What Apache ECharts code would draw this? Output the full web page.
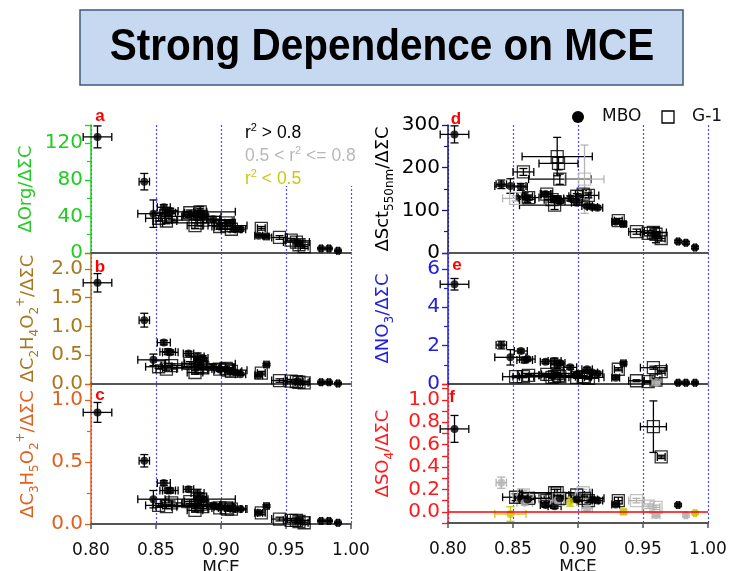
<!DOCTYPE html>
<html><head><meta charset="utf-8">
<script src="https://cdn.jsdelivr.net/npm/echarts@6/dist/echarts.min.js"></script>
<style>html,body{margin:0;padding:0;background:#fff}#c{width:730px;height:571px}</style>
</head><body><div id="c"></div>
<script>
// ---------------- DATA ----------------
const xTickValues = [0.80, 0.85, 0.90, 0.95, 1.00];

// MBO (filled symbols)
const mboMCE    = [0.805, 0.841, 0.848, 0.856, 0.859, 0.861, 0.875, 0.882, 0.884, 0.886, 0.894, 0.899, 0.907, 0.911, 0.915, 0.929, 0.935, 0.960, 0.977, 0.983, 0.990];
const mboMCEErr = [0.011, 0.004, 0.012, 0.005, 0.006, 0.006, 0.004, 0.005, 0.005, 0.004, 0.005, 0.004, 0.004, 0.004, 0.004, 0.003, 0.002, 0.003, 0.001, 0.001, 0.001];

// G-1 (open squares)
const g1MCE    = [0.852, 0.858, 0.862, 0.876, 0.880, 0.882, 0.884, 0.885, 0.886, 0.899, 0.904, 0.905, 0.908, 0.931, 0.945, 0.954, 0.958, 0.960, 0.964];
const g1MCEErr = [0.010, 0.008, 0.008, 0.004, 0.006, 0.027, 0.027, 0.015, 0.024, 0.006, 0.006, 0.015, 0.008, 0.003, 0.006, 0.004, 0.010, 0.003, 0.003];

// a: ΔOrg/ΔΣC
const orgMBO    = [127, 78, 43, 50, 44, 46, 42, 43, 45, 40, 37, 29, 33, 26, 26, 19, 18, 11, 5, 5, 2.5];
const orgMBOErr = [12, 9, 15, 3, 3, 3, 3, 3, 6, 3, 3, 3, 3, 2, 2, 1.5, 1.5, 2, 0.5, 0.5, 0.5];
const orgG1     = [38, 35, 40, 44, 30, 33, 45, 40, 36, 29, 33, 30, 26, 27, 17, 14, 12, 9, 7];
const orgG1Err  = [3, 3, 3, 3, 3, 3, 4, 3, 3, 3, 3, 4, 3, 2, 2, 2, 2, 2, 2];

// b: ΔC2H4O2+/ΔΣC
const c2MBO    = [1.76, 1.11, 0.42, 0.72, 0.56, 0.55, 0.53, 0.48, 0.39, 0.45, 0.30, 0.25, 0.22, 0.20, 0.17, 0.15, 0.34, 0.04, 0.03, 0.03, 0.01];
const c2MBOErr = [0.16, 0.12, 0.10, 0.04, 0.05, 0.04, 0.04, 0.06, 0.05, 0.04, 0.04, 0.03, 0.03, 0.03, 0.02, 0.02, 0.02, 0.02, 0.01, 0.01, 0.01];
const c2G1     = [0.30, 0.26, 0.32, 0.36, 0.20, 0.28, 0.35, 0.30, 0.28, 0.26, 0.27, 0.24, 0.22, 0.19, 0.06, 0.05, 0.04, 0.03, 0.02];
const c2G1Err  = [0.03, 0.03, 0.03, 0.03, 0.03, 0.03, 0.03, 0.03, 0.03, 0.03, 0.03, 0.03, 0.03, 0.03, 0.03, 0.03, 0.03, 0.03, 0.03];

// c: ΔC3H5O2+/ΔΣC
const c3MBO    = [0.90, 0.51, 0.20, 0.33, 0.27, 0.27, 0.28, 0.25, 0.22, 0.20, 0.15, 0.14, 0.13, 0.12, 0.12, 0.09, 0.145, 0.03, 0.025, 0.025, 0.01];
const c3MBOErr = [0.08, 0.05, 0.07, 0.02, 0.02, 0.02, 0.02, 0.03, 0.03, 0.02, 0.02, 0.02, 0.02, 0.01, 0.01, 0.01, 0.01, 0.01, 0.005, 0.005, 0.005];
const c3G1     = [0.15, 0.14, 0.17, 0.18, 0.11, 0.15, 0.20, 0.16, 0.14, 0.13, 0.13, 0.12, 0.12, 0.09, 0.04, 0.03, 0.03, 0.02, 0.01];
const c3G1Err  = [0.015, 0.015, 0.015, 0.015, 0.015, 0.015, 0.015, 0.015, 0.015, 0.015, 0.015, 0.015, 0.015, 0.015, 0.015, 0.015, 0.015, 0.015, 0.015];

// d: ΔSct550nm/ΔΣC
const sctMBO    = [278, 161, 157, 155, 133, 126, 138, 126, 126, 122, 128, 118, 110, 108, 106, 73, 68, 42, 27, 24, 13];
const sctMBOErr = [20, 10, 17, 8, 8, 8, 5, 8, 8, 6, 6, 6, 4, 4, 4, 5, 5, 18, 3, 3, 3];
const sctG1     = [128, 190, 130, 138, 125, 112, 226, 210, 173, 133, 138, 173, 135, 76, 50, 46, 48, 44, 34];
const sctG1Err  = [6, 8, 6, 5, 6, 10, 45, 15, 12, 6, 8, 80, 6, 5, 6, 6, 6, 6, 6];
const sctG1Class = ['mid','hi','hi','hi','hi','hi','hi','hi','hi','hi','hi','mid','hi','hi','hi','hi','hi','hi','hi'];

// e: ΔNO3/ΔΣC
const no3MBO    = [5.2, 2.03, 1.39, 1.72, 1.25, 1.30, 1.16, 1.20, 1.00, 1.10, 0.87, 0.50, 0.77, 0.60, 0.55, 0.33, 1.08, 0.07, 0.07, 0.07, 0.07];
const no3MBOErr = [0.3, 0.2, 0.4, 0.1, 0.15, 0.1, 0.1, 0.15, 0.2, 0.1, 0.1, 0.1, 0.1, 0.08, 0.08, 0.08, 0.08, 0.05, 0.03, 0.03, 0.03];
const no3MBOClass = ['hi','hi','hi','hi','hi','hi','hi','hi','hi','hi','hi','hi','hi','hi','hi','hi','hi','mid','hi','hi','hi'];
const no3G1     = [0.38, 0.38, 0.45, 0.50, 0.35, 0.38, 0.55, 0.45, 0.38, 0.35, 0.38, 0.35, 0.30, 0.77, 0.17, 0.12, 0.85, 0.20, 0.64];
const no3G1Err  = [0.05, 0.05, 0.05, 0.05, 0.05, 0.05, 0.05, 0.05, 0.05, 0.05, 0.05, 0.05, 0.05, 0.08, 0.05, 0.05, 0.08, 0.05, 0.08];

// f: ΔSO4/ΔΣC
const so4MBO    = [0.74, 0.26, -0.02, 0.12, 0.08, 0.11, 0.06, 0.05, 0.10, 0.12, 0.09, 0.11, 0.03, 0.11, 0.10, 0.065, 0.00, -0.03, 0.06, -0.03, -0.01];
const so4MBOErr = [0.12, 0.05, 0.065, 0.02, 0.02, 0.02, 0.02, 0.02, 0.03, 0.02, 0.04, 0.02, 0.02, 0.02, 0.02, 0.015, 0.02, 0.015, 0.01, 0.015, 0.01];
const so4MBOClass = ['hi','mid','lo','hi','mid','hi','hi','hi','mid','hi','lo','hi','mid','hi','hi','hi','lo','mid','hi','mid','lo'];
const so4G1     = [0.13, 0.15, 0.12, 0.10, 0.11, 0.17, 0.17, 0.11, 0.12, 0.15, 0.17, 0.12, 0.10, 0.10, 0.10, 0.05, 0.76, 0.04, 0.49];
const so4G1Err  = [0.03, 0.04, 0.02, 0.02, 0.02, 0.03, 0.03, 0.02, 0.02, 0.02, 0.03, 0.02, 0.02, 0.03, 0.02, 0.02, 0.23, 0.02, 0.015];
const so4G1Class = ['hi','mid','hi','hi','hi','hi','hi','mid','hi','hi','mid','hi','hi','hi','mid','mid','hi','mid','hi'];

// ---------------- STYLE / LAYOUT ----------------
const FONT = "'DejaVu Sans', 'Liberation Sans', sans-serif";
const LFONT = "'Liberation Sans', Arial, sans-serif";
const CLASS_COLORS = ['#000000', '#b4b4b4', '#c8c814'];

const panels = [
  { key:'a', left:91,  top:125, height:128, min:0,    max:140,   interval:40,  step:40,  dec:0, color:'#22cc22', axisColor:'#22cc22', nameGap:52,
    name:'{t|ΔOrg/ΔΣC}', minor:2,
    mbo:[orgMBO, orgMBOErr, null], g1:[orgG1, orgG1Err, null] },
  { key:'b', left:91,  top:253, height:131, min:0,    max:2.278, interval:0.5, step:0.5, dec:1, color:'#a8781e', axisColor:'#a8781e', nameGap:50,
    name:'{t|ΔC}{s|2}{t|H}{s|4}{t|O}{s|2}{p|+}{t|/ΔΣC}', minor:0,
    mbo:[c2MBO, c2MBOErr, null], g1:[c2G1, c2G1Err, null] },
  { key:'c', left:91,  top:384, height:140, min:0,    max:1.129, interval:0.5, step:0.5, dec:1, color:'#e0601e', axisColor:'#e0601e', nameGap:50,
    name:'{t|ΔC}{s|3}{t|H}{s|5}{t|O}{s|2}{p|+}{t|/ΔΣC}', minor:2, bottom:true,
    mbo:[c3MBO, c3MBOErr, null], g1:[c3G1, c3G1Err, null] },
  { key:'d', left:448, top:125, height:128, min:0,    max:300,   interval:100, step:100, dec:0, color:'#000000', axisColor:'#1a1a70', nameGap:52,
    name:'{t|ΔSct}{s|550nm}{t|/ΔΣC}', minor:2,
    mbo:[sctMBO, sctMBOErr, null], g1:[sctG1, sctG1Err, sctG1Class] },
  { key:'e', left:448, top:253, height:131, min:0,    max:6.83,  interval:2,   step:2,   dec:0, color:'#2020e0', axisColor:'#2020e0', nameGap:52,
    name:'{t|ΔNO}{s|3}{t|/ΔΣC}', minor:2,
    mbo:[no3MBO, no3MBOErr, no3MBOClass], g1:[no3G1, no3G1Err, null] },
  { key:'f', left:448, top:384, height:139, min:-0.1, max:1.141, interval:0.1, step:0.2, dec:1, color:'#ff1a1a', axisColor:'#ff1a1a', nameGap:52,
    name:'{t|ΔSO}{s|4}{t|/ΔΣC}', minor:0, bottom:true, zeroLine:true,
    mbo:[so4MBO, so4MBOErr, so4MBOClass], g1:[so4G1, so4G1Err, so4G1Class] }
];

// ---------------- BUILD ----------------
const grid = [], xAxis = [], yAxis = [], series = [];

// background grids carrying the dotted blue MCE lines
[91, 448].forEach(function (lft) {
  grid.push({ left: lft, top: 125, width: 260, height: 399, outerBoundsMode: 'none', containLabel: false });
  const gi = grid.length - 1;
  xAxis.push({ gridIndex: gi, type: 'value', min: xTickValues[0], max: xTickValues[xTickValues.length - 1], interval: 0.05,
    axisLine: { show: false }, axisTick: { show: false }, axisLabel: { show: false },
    splitLine: { show: true, lineStyle: { color: '#4a4aff', type: [2, 2], width: 1.2 } } });
  yAxis.push({ gridIndex: gi, type: 'value', show: false, min: 0, max: 1, splitLine: { show: false } });
});

function errRender(params, api) {
  const x = api.value(0), y = api.value(1), xe = api.value(2), ye = api.value(3);
  const c = CLASS_COLORS[api.value(4)];
  const p0 = api.coord([x - xe, y]), p1 = api.coord([x + xe, y]);
  const q0 = api.coord([x, y - ye]), q1 = api.coord([x, y + ye]);
  const cap = 4, st = { stroke: c, lineWidth: 1.3 };
  const L = (x1, y1, x2, y2) => ({ type: 'line', shape: { x1, y1, x2, y2 }, style: st });
  return { type: 'group', children: [
    L(p0[0], p0[1], p1[0], p1[1]),
    L(p0[0], p0[1] - cap, p0[0], p0[1] + cap),
    L(p1[0], p1[1] - cap, p1[0], p1[1] + cap),
    L(q0[0], q0[1], q1[0], q1[1]),
    L(q0[0] - cap, q0[1], q0[0] + cap, q0[1]),
    L(q1[0] - cap, q1[1], q1[0] + cap, q1[1])
  ] };
}

const CLS_IDX = { hi: 0, mid: 1, lo: 2 };

function addPoints(gi, xs, xe, ys, ye, cls, kind) {
  const items = [];
  for (let i = 0; i < xs.length; i++) {
    if (ys[i] == null) continue;
    items.push([xs[i], ys[i], xe[i], ye[i], CLS_IDX[cls ? cls[i] : 'hi']]);
  }
  series.push({ type: 'custom', xAxisIndex: gi, yAxisIndex: gi, z: 3, silent: true,
    encode: { x: 0, y: 1 }, renderItem: errRender, data: items, clip: false });
  series.push({ type: 'scatter', xAxisIndex: gi, yAxisIndex: gi, z: 4, silent: true,
    symbol: kind === 'mbo' ? 'circle' : 'rect', symbolSize: kind === 'mbo' ? 8 : 12,
    data: items.map(function (d) {
      const col = CLASS_COLORS[d[4]];
      return { value: [d[0], d[1]], itemStyle: kind === 'mbo'
        ? { color: col }
        : { color: 'rgba(255,255,255,0)', borderColor: col, borderWidth: 1.3 } };
    }) });
}

panels.forEach(function (p) {
  grid.push({ left: p.left, top: p.top, width: 260, height: p.height, outerBoundsMode: 'none', containLabel: false });
  const gi = grid.length - 1;
  xAxis.push({ gridIndex: gi, type: 'value', min: 0.8, max: 1.0, interval: 0.05,
    axisLine: { show: true, onZero: false, lineStyle: { color: p.key === 'e' ? '#111' : '#555', width: p.key === 'e' ? 1.5 : 2 } },
    axisTick: { show: !!p.bottom, length: 5, lineStyle: { color: '#555', width: 1.5 } },
    axisLabel: { show: !!p.bottom, fontSize: 17, fontFamily: FONT, color: '#111', margin: 18,
      formatter: function (v) { return v.toFixed(2); } },
    splitLine: { show: false },
    name: p.bottom ? 'MCE' : '', nameLocation: 'middle', nameGap: 34,
    nameTextStyle: { fontSize: 17, fontFamily: FONT, color: '#111' } });
  const tcol = p.color;
  yAxis.push({ gridIndex: gi, type: 'value', min: p.min, max: p.max, interval: p.interval,
    axisLine: { show: true, onZero: false, lineStyle: { color: p.axisColor, width: 1.5 } },
    axisTick: { show: true, length: 6, lineStyle: { color: p.axisColor, width: 1.3 } },
    minorTick: { show: p.minor > 0, splitNumber: p.minor || 5, length: 4, lineStyle: { color: p.axisColor, width: 1.2 } },
    axisLabel: { fontSize: 20, fontFamily: FONT, color: tcol, margin: 8,
      formatter: function (v) {
        const k = v / p.step;
        if (Math.abs(k - Math.round(k)) > 1e-6) return '';
        if (v < -1e-9) return '';
        return Math.abs(v) < 1e-9 ? (p.dec ? (0).toFixed(p.dec) : '0') : v.toFixed(p.dec);
      } },
    splitLine: { show: false },
    name: p.name, nameLocation: 'middle', nameRotate: 90, nameGap: p.nameGap,
    nameTextStyle: { rich: {
      t: { fontSize: 18, fontFamily: FONT, color: tcol, lineHeight: 26 },
      s: { fontSize: 12, fontFamily: FONT, color: tcol, verticalAlign: 'bottom' },
      p: { fontSize: 12, fontFamily: FONT, color: tcol, verticalAlign: 'top' }
    } } });
  if (p.zeroLine) {
    series.push({ type: 'scatter', xAxisIndex: gi, yAxisIndex: gi, data: [], z: 2, silent: true,
      markLine: { silent: true, symbol: 'none', label: { show: false },
        lineStyle: { color: '#ff0000', type: 'solid', width: 1.5 }, data: [{ yAxis: 0 }] } });
  }
  addPoints(gi, g1MCE, g1MCEErr, p.g1[0], p.g1[1], p.g1[2], 'g1');
  addPoints(gi, mboMCE, mboMCEErr, p.mbo[0], p.mbo[1], p.mbo[2], 'mbo');
});

// ---------------- TEXT / DECOR ----------------
function legendText(y, txt, col) {
  return { type: 'text', x: 245, y: y, z: 20, style: { text: txt, fill: col, align: 'left', verticalAlign: 'middle',
    rich: {
      a: { fontSize: 17.5, fontFamily: LFONT, fill: col, lineHeight: 22 },
      s: { fontSize: 11, fontFamily: LFONT, fill: col, verticalAlign: 'top', lineHeight: 22 }
    } } };
}
function panelLabel(x, y, t) {
  return { type: 'text', x: x, y: y, z: 20, style: { text: t, fill: '#ff0000', font: "bold 17px " + LFONT, align: 'center', verticalAlign: 'middle' } };
}

const graphic = [
  { type: 'rect', z: 20, shape: { x: 80, y: 10, width: 603, height: 75 }, style: { fill: '#c6d9f1', stroke: '#41587a', lineWidth: 1.5 } },
  { type: 'text', z: 21, x: 382, y: 48, scaleX: 0.9, originX: 0, originY: 0,
    style: { text: 'Strong Dependence on MCE', fill: '#000', font: "bold 45px " + LFONT, align: 'center', verticalAlign: 'middle' } },
  { type: 'rect', z: 5, shape: { x: 241, y: 121, width: 122, height: 65 }, style: { fill: '#ffffff' } },
  legendText(133, '{a|r}{s|2}{a| > 0.8}', '#000000'),
  legendText(156, '{a|0.5 < r}{s|2}{a| <= 0.8}', '#b8b8b8'),
  legendText(179, '{a|r}{s|2}{a| < 0.5}', '#c8c814'),
  panelLabel(100, 116, 'a'), panelLabel(100, 267, 'b'), panelLabel(100, 395, 'c'),
  panelLabel(456, 119, 'd'), panelLabel(457, 265, 'e'), panelLabel(452, 397, 'f'),
  { type: 'circle', z: 20, shape: { cx: 578, cy: 117, r: 6 }, style: { fill: '#000' } },
  { type: 'text', z: 20, x: 602, y: 117, style: { text: 'MBO', fill: '#111', font: "17px " + FONT, align: 'left', verticalAlign: 'middle' } },
  { type: 'rect', z: 20, shape: { x: 662, y: 111, width: 12, height: 12 }, style: { fill: 'none', stroke: '#000', lineWidth: 1.3 } },
  { type: 'text', z: 20, x: 692, y: 117, style: { text: 'G-1', fill: '#111', font: "17px " + FONT, align: 'left', verticalAlign: 'middle' } }
];

const chart = echarts.init(document.getElementById('c'), null, { renderer: 'canvas' });
chart.setOption({
  animation: false,
  backgroundColor: '#ffffff',
  grid: grid, xAxis: xAxis, yAxis: yAxis, series: series, graphic: graphic
});
</script>
</body></html>
